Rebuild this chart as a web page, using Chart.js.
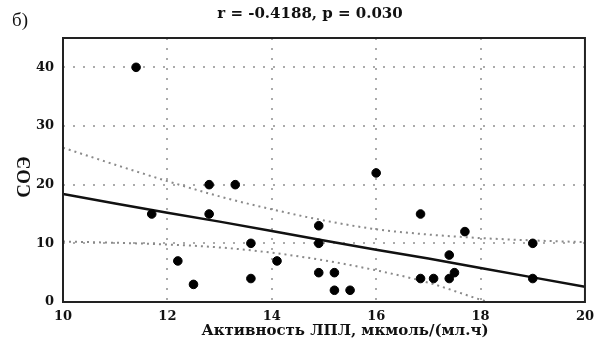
<!DOCTYPE html>
<html>
<head>
<meta charset="utf-8">
<script src="https://cdn.jsdelivr.net/npm/chart.js@4/dist/chart.umd.min.js"></script>
<style>
  html, body { margin: 0; padding: 0; background: #fff; }
  #wrap { width: 601px; height: 349px; }
</style>
</head>
<body>
<div id="wrap"><canvas id="c" width="601" height="349"></canvas></div>
<script>
// точки: активность ЛПЛ и СОЭ
const lplValues = [11.4, 11.7, 12.2, 12.5, 12.8, 12.8, 13.3, 13.6, 13.6, 14.1,
  14.9, 14.9, 14.9, 15.2, 15.2, 15.5, 16.0, 16.85, 16.85, 17.1, 17.4, 17.4, 17.5, 17.7, 19.0, 19.0];
const soeValues = [40, 15, 7, 3, 20, 15, 20, 10, 4, 7,
  13, 10, 5, 5, 2, 2, 22, 15, 4, 4, 4, 8, 5, 12, 10, 4];

// линия регрессии и доверительные границы
const lineX = [10, 11, 12, 13, 14, 15, 16, 17, 18, 19, 20];
const fitY = [18.4, 16.8, 15.2, 13.7, 12.1, 10.5, 8.9, 7.4, 5.8, 4.2, 2.6];
const upperY = [26.3, 23.4, 20.6, 18.0, 15.8, 13.9, 12.4, 11.5, 10.9, 10.5, 10.2];
const lowerY = [10.3, 10.1, 9.8, 9.3, 8.4, 7.1, 5.4, 3.3, 0.4, -2.2, -5.0];

const xTicks = [10, 12, 14, 16, 18, 20];
const yTicks = [0, 10, 20, 30, 40];

const titleText = "r = -0.4188, p = 0.030";
const xTitle = "Активность ЛПЛ, мкмоль/(мл.ч)";
const yTitle = "СОЭ";

const serif = "'DejaVu Serif', 'Liberation Serif', serif";
const times = "'Liberation Serif', serif";

const toPts = (xs, ys) => xs.map((x, i) => ({ x: x, y: ys[i] }));

const framePlugin = {
  id: "frame",
  afterDraw(chart) {
    const { ctx, chartArea: a } = chart;
    ctx.save();
    ctx.strokeStyle = "#222";
    ctx.lineWidth = 2;
    ctx.strokeRect(a.left, a.top, a.right - a.left, a.bottom - a.top);

    ctx.fillStyle = "#111";
    ctx.textAlign = "center";
    ctx.textBaseline = "middle";
    ctx.font = "bold 15px " + serif;
    ctx.fillText(titleText, 310, 14);
    ctx.fillText(xTitle, 345, 331);

    ctx.font = "19px " + times;
    ctx.textAlign = "left";
    ctx.fillText("б)", 12, 21);

    ctx.translate(25, 177);
    ctx.rotate(-Math.PI / 2);
    ctx.textAlign = "center";
    ctx.font = "bold 19px " + times;
    ctx.fillText(yTitle, 0, 0);
    ctx.restore();
  },
};

const gridColor = (skip) => (c) =>
  skip.includes(c.tick && c.tick.value) ? "rgba(0,0,0,0)" : "#ababab";

new Chart(document.getElementById("c"), {
  type: "scatter",
  data: {
    datasets: [
      {
        data: toPts(lplValues, soeValues),
        backgroundColor: "#000",
        borderColor: "#000",
        pointRadius: 4.3,
        pointHoverRadius: 4.3,
        order: 0,
      },
      {
        type: "line",
        data: toPts(lineX, fitY),
        borderColor: "#111",
        borderWidth: 2.5,
        pointRadius: 0,
        fill: false,
        order: 1,
      },
      {
        type: "line",
        data: toPts(lineX, upperY),
        borderColor: "#8a8a8a",
        borderWidth: 2,
        borderDash: [2, 4],
        cubicInterpolationMode: "monotone",
        pointRadius: 0,
        fill: false,
        order: 2,
      },
      {
        type: "line",
        data: toPts(lineX, lowerY),
        borderColor: "#8a8a8a",
        borderWidth: 2,
        borderDash: [2, 4],
        cubicInterpolationMode: "monotone",
        pointRadius: 0,
        fill: false,
        order: 2,
      },
    ],
  },
  options: {
    responsive: false,
    animation: false,
    events: [],
    layout: { padding: { top: 38, right: 15, left: 0, bottom: 0 } },
    plugins: {
      legend: { display: false },
      tooltip: { enabled: false },
    },
    scales: {
      x: {
        type: "linear",
        min: 10,
        max: 20,
        afterBuildTicks: (s) => { s.ticks = xTicks.map((v) => ({ value: v })); },
        afterFit: (s) => { s.height = 47; },
        border: { display: false, dash: [2, 8] },
        grid: {
          color: gridColor([10, 20]),
          lineWidth: 2,
          drawTicks: false,
        },
        ticks: {
          color: "#111",
          padding: 7,
          font: { family: serif, size: 13, weight: "bold" },
          maxRotation: 0,
        },
      },
      y: {
        type: "linear",
        min: 0,
        max: 45,
        afterBuildTicks: (s) => { s.ticks = yTicks.map((v) => ({ value: v })); },
        afterFit: (s) => { s.width = 63; },
        border: { display: false, dash: [2, 8] },
        grid: {
          color: gridColor([0]),
          lineWidth: 2,
          drawTicks: false,
        },
        ticks: {
          color: "#111",
          padding: 9,
          font: { family: serif, size: 13, weight: "bold" },
        },
      },
    },
  },
  plugins: [framePlugin],
});
</script>
</body>
</html>
